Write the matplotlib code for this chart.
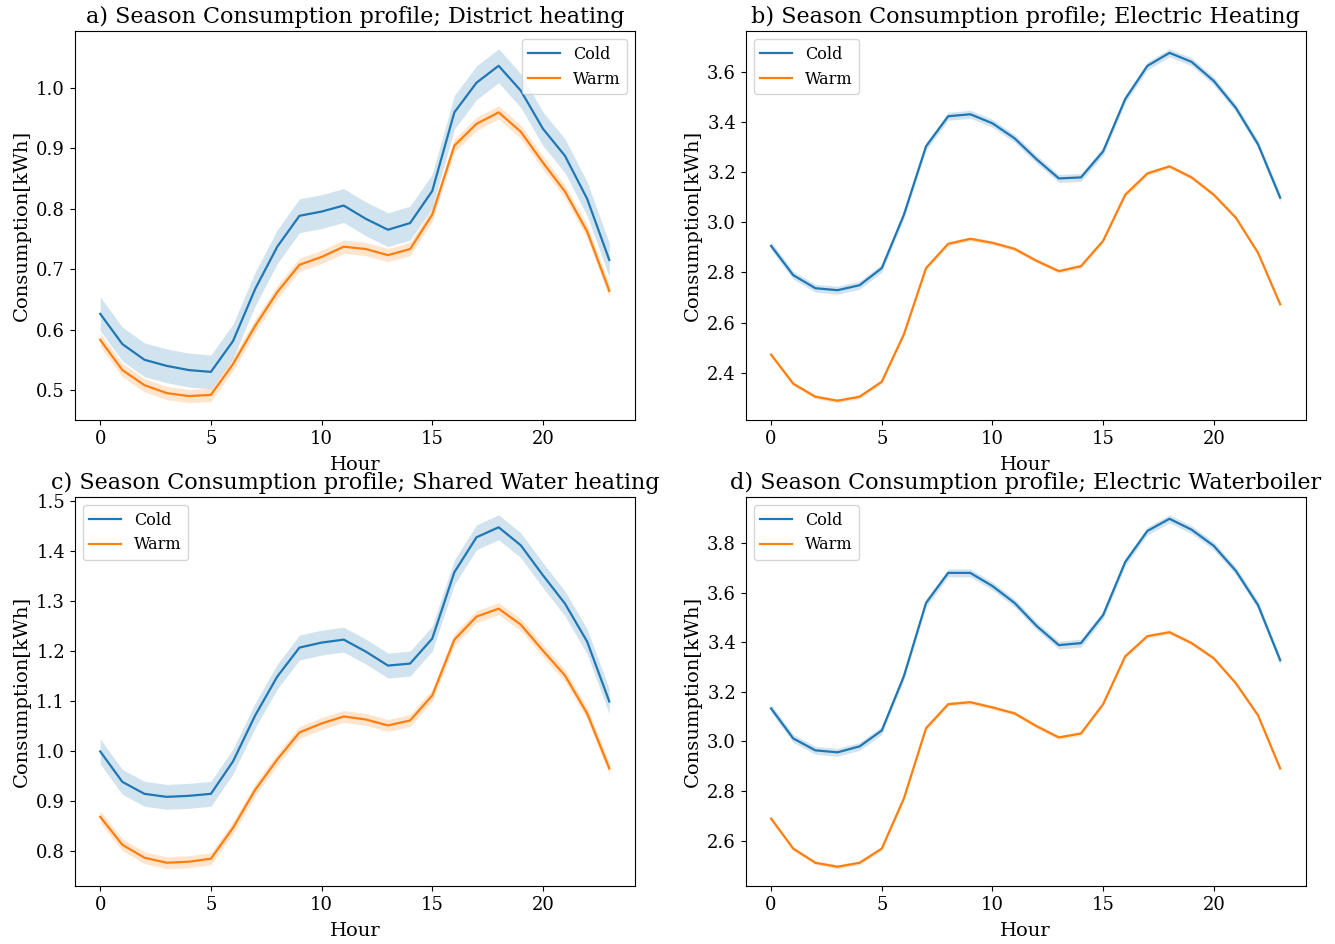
import matplotlib
matplotlib.use("Agg")
import matplotlib.pyplot as plt
import numpy as np

plt.rcParams['font.family'] = ['DejaVu Serif']

hours = list(range(24))

titles = [
    "a) Season Consumption profile; District heating",
    "b) Season Consumption profile; Electric Heating",
    "c) Season Consumption profile; Shared Water heating",
    "d) Season Consumption profile; Electric Waterboiler",
]

cold_a = [0.626, 0.576, 0.550, 0.540, 0.533, 0.530, 0.581, 0.667, 0.737, 0.788, 0.795, 0.805,
          0.783, 0.765, 0.776, 0.829, 0.959, 1.008, 1.036, 0.995, 0.932, 0.887, 0.816, 0.715]
warm_a = [0.583, 0.533, 0.508, 0.495, 0.490, 0.492, 0.543, 0.606, 0.662, 0.707, 0.720, 0.737,
          0.733, 0.723, 0.733, 0.790, 0.904, 0.940, 0.959, 0.927, 0.876, 0.828, 0.762, 0.664]

cold_b = [2.906, 2.789, 2.737, 2.729, 2.749, 2.817, 3.030, 3.303, 3.423, 3.431, 3.395, 3.335,
          3.251, 3.175, 3.179, 3.283, 3.492, 3.624, 3.676, 3.640, 3.564, 3.456, 3.311, 3.098]
warm_b = [2.472, 2.356, 2.304, 2.288, 2.304, 2.364, 2.553, 2.817, 2.914, 2.934, 2.918, 2.894,
          2.846, 2.805, 2.825, 2.926, 3.110, 3.195, 3.223, 3.179, 3.110, 3.018, 2.878, 2.673]

cold_c = [0.999, 0.938, 0.914, 0.908, 0.910, 0.914, 0.979, 1.071, 1.149, 1.207, 1.217, 1.223,
          1.199, 1.171, 1.175, 1.225, 1.358, 1.428, 1.448, 1.412, 1.352, 1.295, 1.219, 1.099]
warm_c = [0.868, 0.812, 0.786, 0.776, 0.778, 0.784, 0.846, 0.922, 0.983, 1.037, 1.055, 1.069,
          1.063, 1.051, 1.061, 1.111, 1.223, 1.269, 1.285, 1.253, 1.201, 1.151, 1.075, 0.965]

cold_d = [3.133, 3.012, 2.964, 2.956, 2.980, 3.044, 3.263, 3.558, 3.679, 3.679, 3.626, 3.558,
          3.465, 3.388, 3.396, 3.509, 3.723, 3.848, 3.897, 3.853, 3.788, 3.687, 3.549, 3.327]
warm_d = [2.689, 2.568, 2.511, 2.495, 2.511, 2.568, 2.770, 3.053, 3.150, 3.158, 3.137, 3.113,
          3.061, 3.016, 3.032, 3.150, 3.343, 3.424, 3.440, 3.396, 3.335, 3.234, 3.105, 2.891]

# half-width of the confidence band per panel (cold, warm)
ci_cold = [0.028, 0.016, 0.025, 0.016]
ci_warm = [0.011, 0.008, 0.012, 0.008]

colds = [cold_a, cold_b, cold_c, cold_d]
warms = [warm_a, warm_b, warm_c, warm_d]
legend_locs = ["upper right", "upper left", "upper left", "upper left"]

fig, axes = plt.subplots(2, 2, figsize=(13.35, 9.44), dpi=100)
fig.subplots_adjust(left=0.056, right=0.978, top=0.967, bottom=0.061, wspace=0.198, hspace=0.197)

blue = "#1f77b4"
orange = "#ff7f0e"

for i, ax in enumerate(axes.flat):
    c = np.array(colds[i])
    w = np.array(warms[i])
    ax.plot(hours, c, color=blue, lw=1.6, label="Cold")
    ax.fill_between(hours, c - ci_cold[i], c + ci_cold[i], color=blue, alpha=0.2, lw=0)
    ax.plot(hours, w, color=orange, lw=1.6, label="Warm")
    ax.fill_between(hours, w - ci_warm[i], w + ci_warm[i], color=orange, alpha=0.2, lw=0)
    ax.set_title(titles[i], fontsize=16, pad=6)
    ax.set_xlabel("Hour", fontsize=14, labelpad=6)
    ax.set_ylabel("Consumption[kWh]", fontsize=14)
    ax.tick_params(labelsize=13)
    ax.set_xticks([0, 5, 10, 15, 20])
    ax.legend(loc=legend_locs[i], fontsize=11.5)

fig.savefig("out.png", dpi=100)
